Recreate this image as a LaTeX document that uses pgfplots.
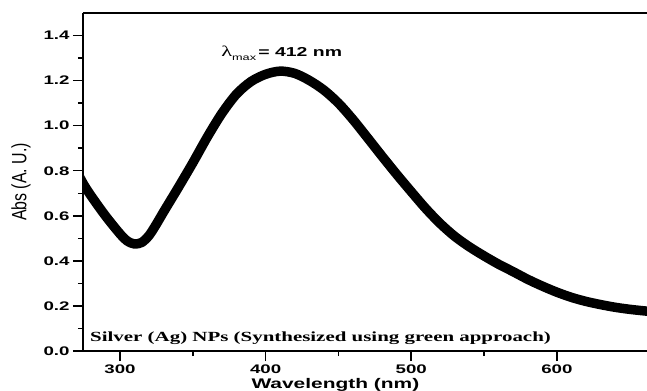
\documentclass[border=0pt]{standalone}
\usepackage{graphicx}
\usepackage{fontspec}
\setmainfont{Liberation Sans}
\newfontfamily\timesfont{Liberation Serif}
\usepackage{pgfplots}
\pgfplotsset{compat=1.18}
\pgfplotstableread{
x y
265 0.860
270 0.800
275 0.740
280 0.690
290 0.600
300 0.520
305 0.488
310 0.475
315 0.482
320 0.513
325 0.563
330 0.618
340 0.725
350 0.835
360 0.950
370 1.055
380 1.140
390 1.196
400 1.228
410 1.242
420 1.232
430 1.201
440 1.158
450 1.100
460 1.027
470 0.946
480 0.864
490 0.784
500 0.707
510 0.632
520 0.565
530 0.508
540 0.462
550 0.422
560 0.385
570 0.352
580 0.318
590 0.288
600 0.261
610 0.238
620 0.220
630 0.206
640 0.194
650 0.185
660 0.178
670 0.172
}\spectrum
\begin{document}
\begin{tikzpicture}
\begin{axis}[
  at={(0,0)}, anchor=south west,
  scale only axis, width=564bp, height=338bp,
  xmin=274.6, xmax=661.9, ymin=0, ymax=1.5,
  axis x line=box, axis y line=left,
  axis line style={-, line width=1.8bp, black},
  xtick pos=lower, ytick pos=left,
  tick align=outside,
  xtick={300,400,500,600}, ytick={0,0.2,0.4,0.6,0.8,1.0,1.2,1.4},
  minor x tick num=1, minor y tick num=1,
  major tick length=10bp, minor tick length=5bp,
  every tick/.style={black, line width=1.5bp},
  ticklabel style={font=\fontsize{12.5}{12.5}\selectfont\bfseries},
  xticklabel={\scalebox{1.5}[1]{\pgfmathprintnumber[fixed,precision=0,assume math mode=true]{\tick}}},
  yticklabel={\scalebox{1.5}[1]{\pgfmathprintnumber[fixed,fixed zerofill,precision=1,assume math mode=true]{\tick}}},
  xlabel={\scalebox{1.5}[1]{Wavelength (nm)}},
  xlabel style={at={(axis description cs:0.4475,-0.1095)}, anchor=base, font=\fontsize{14}{14}\selectfont\bfseries},
  ylabel={\scalebox{1}[1.3]{Abs (A. U.)}},
  ylabel style={at={(axis description cs:-0.1100,0.5)}, anchor=center, font=\fontsize{16}{16}\selectfont},
]
\addplot[black, line width=9.5bp, line join=round, smooth] table[x=x,y=y] {\spectrum};
\node[anchor=base west, inner sep=0pt] at (axis cs:369.4,1.308)
  {\scalebox{1.5}[1]{{\timesfont\fontsize{15}{15}\selectfont λ}\raisebox{-4bp}{\fontsize{8.5}{8.5}\selectfont max}\hspace{1.5bp}{\fontsize{13}{13}\selectfont\bfseries = 412 nm}}};
\node[anchor=base west, inner sep=0pt] at (axis cs:279.4,0.04)
  {\scalebox{1.5}[1]{\timesfont\bfseries\fontsize{14}{14}\selectfont Silver (Ag) NPs (Synthesized using green approach)}};
\end{axis}
\pgfresetboundingbox
\useasboundingbox (-83bp,-40bp) rectangle (564bp,351bp);
\end{tikzpicture}
\end{document}
